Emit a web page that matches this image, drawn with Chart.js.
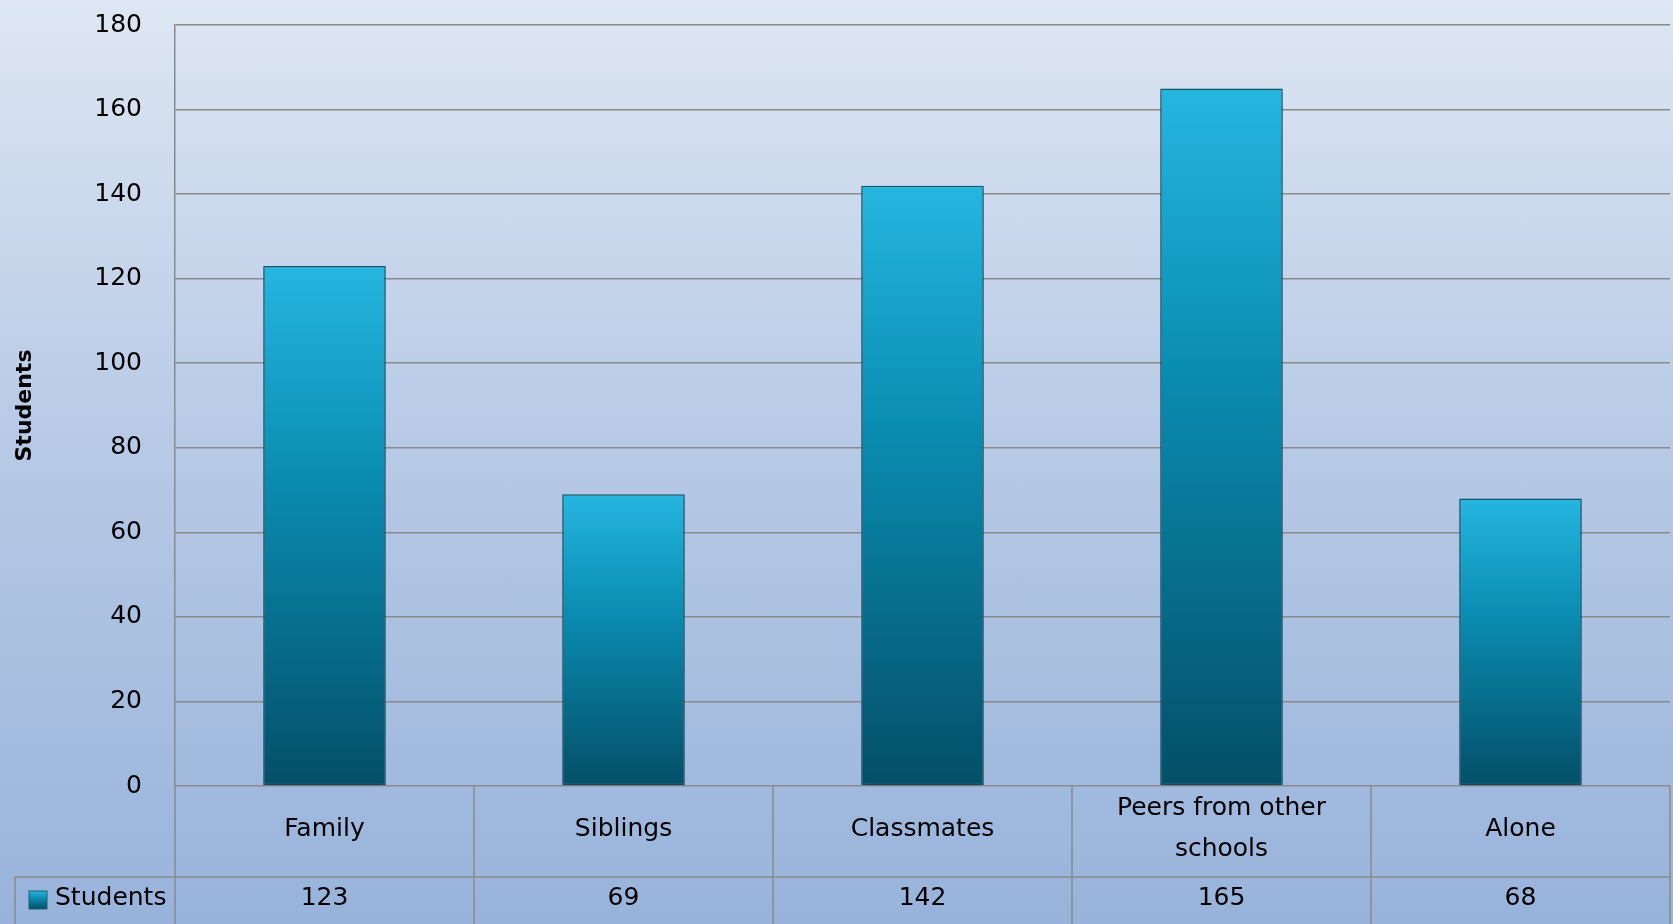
<!DOCTYPE html>
<html>
<head>
<meta charset="utf-8">
<script src="https://cdn.jsdelivr.net/npm/chart.js@4"></script>
<style>
  html, body { margin: 0; padding: 0; }
  body {
    width: 1673px;
    height: 924px;
    overflow: hidden;
    background: linear-gradient(to bottom, #dee7f3 0%, #b9cbe6 45%, #98b3db 100%);
  }
  canvas { display: block; }
</style>
</head>
<body>
<canvas id="myChart" width="1673" height="924"></canvas>
<script>
// chart data
const categories = ["Family", "Siblings", "Classmates", ["Peers from other", "schools"], "Alone"];
const seriesName = "Students";
const students = [123, 69, 142, 165, 68];
const yTicks = { min: 0, max: 180, step: 20 };

const FONT = "'DejaVu Sans', Verdana, sans-serif";
const LINE = "#8a8a8a";

// gradient from light cyan (top) to dark teal (bottom)
function barGradient(c, top, bottom) {
  const g = c.createLinearGradient(0, top, 0, bottom);
  g.addColorStop(0, "#25b6e0");
  g.addColorStop(0.4, "#0a8db2");
  g.addColorStop(1, "#044f68");
  return g;
}

// soft shadow under the bars
const shadowPlugin = {
  id: "barShadow",
  beforeDatasetsDraw(chart) {
    const c = chart.ctx;
    c.save();
    c.shadowColor = "rgba(0, 0, 0, 0.35)";
    c.shadowBlur = 5;
    c.shadowOffsetY = 2;
  },
  afterDatasetsDraw(chart) {
    chart.ctx.restore();
  },
};

// data table under the plot
const tablePlugin = {
  id: "dataTable",
  afterDraw(chart) {
    const { ctx, chartArea, scales } = chart;
    const x = scales.x;
    const colW = x.getPixelForValue(1) - x.getPixelForValue(0);
    const rowTop = chartArea.bottom;
    const rowMid = rowTop + 91;
    const bottom = chart.height;
    const legendLeft = 15;

    ctx.save();
    ctx.strokeStyle = LINE;
    ctx.lineWidth = 1.5;
    ctx.beginPath();
    ctx.moveTo(legendLeft, rowMid);
    ctx.lineTo(chartArea.right, rowMid);
    ctx.moveTo(legendLeft, rowMid);
    ctx.lineTo(legendLeft, bottom);
    for (let i = 0; i <= categories.length; i++) {
      const xb = x.getPixelForValue(0) - colW / 2 + i * colW;
      ctx.moveTo(xb, rowTop);
      ctx.lineTo(xb, bottom);
    }
    ctx.stroke();

    ctx.fillStyle = "#000";
    ctx.font = "25px " + FONT;
    ctx.textAlign = "center";
    ctx.textBaseline = "middle";
    const lh = 41;
    categories.forEach((lab, i) => {
      const cx = x.getPixelForValue(i);
      const lines = Array.isArray(lab) ? lab : [lab];
      const start = rowTop + 43 - ((lines.length - 1) * lh) / 2;
      lines.forEach((t, j) => ctx.fillText(t, cx, start + j * lh));
      ctx.fillText(String(students[i]), cx, rowMid + 21);
    });

    // legend key
    const kx = 29, ky = rowMid + 14, ks = 18;
    ctx.fillStyle = barGradient(ctx, ky, ky + ks);
    ctx.fillRect(kx, ky, ks, ks);
    ctx.strokeStyle = "#1d5e74";
    ctx.lineWidth = 1;
    ctx.strokeRect(kx, ky, ks, ks);
    ctx.fillStyle = "#000";
    ctx.textAlign = "left";
    ctx.fillText(seriesName, 55, rowMid + 21);
    ctx.restore();
  },
};

const chartData = {
  labels: categories,
  datasets: [
    {
      label: seriesName,
      data: students,
      backgroundColor: (context) => {
        const chart = context.chart;
        if (!chart.chartArea) return "#0b8db3";
        const y = chart.scales.y;
        return barGradient(chart.ctx, y.getPixelForValue(context.raw), y.getPixelForValue(0));
      },
      borderColor: "#175a71",
      borderWidth: 1.5,
      borderSkipped: false,
      categoryPercentage: 1,
      barPercentage: 0.41,
    },
  ],
};

const config = {
  type: "bar",
  data: chartData,
  options: {
    responsive: false,
    animation: false,
    layout: {
      padding: { top: 25, right: 3, bottom: 138, left: 0 },
    },
    scales: {
      x: {
        display: false,
      },
      y: {
        min: yTicks.min,
        max: yTicks.max,
        ticks: {
          stepSize: yTicks.step,
          padding: 3,
          color: "#000",
          font: { family: FONT, size: 25 },
        },
        grid: {
          color: LINE,
          lineWidth: 1.5,
          drawTicks: true,
          tickLength: 30,
          tickColor: "rgba(0,0,0,0)",
        },
        border: { display: true, color: LINE, width: 1.5 },
        title: {
          display: true,
          text: seriesName,
          color: "#000",
          padding: { top: 12, bottom: 0 },
          font: { family: FONT, size: 22, weight: "bold" },
        },
        afterFit(scale) {
          scale.width = 175;
        },
      },
    },
    plugins: {
      legend: { display: false },
      tooltip: { enabled: false },
    },
  },
  plugins: [shadowPlugin, tablePlugin],
};

const myChart = new Chart(document.getElementById("myChart"), config);
</script>
</body>
</html>
